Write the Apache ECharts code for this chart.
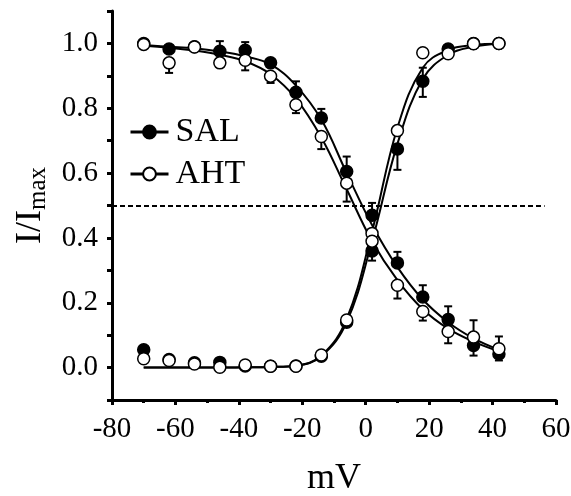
<!DOCTYPE html>
<html>
<head>
<meta charset="utf-8">
<script src="https://cdn.jsdelivr.net/npm/echarts@6/dist/echarts.min.js"></script>
<style>html,body{margin:0;padding:0;background:#fff;}#c{width:571px;height:496px;}</style>
</head>
<body>
<div id="c"></div>
<script>
// ---- data ----
var volt = [-70, -62, -54, -46, -38, -30, -22, -14, -6, 2, 10, 18, 26, 34, 42];
// inactivation (steady-state availability)
var salInact = [1.0, 0.983, 0.99, 0.976, 0.979, 0.94, 0.849, 0.77, 0.605, 0.47, 0.323, 0.218, 0.148, 0.068, 0.042];
var ahtInact = [0.997, 0.94, 0.989, 0.94, 0.948, 0.899, 0.811, 0.713, 0.569, 0.414, 0.254, 0.173, 0.111, 0.094, 0.058];
// activation
var salAct = [0.055, 0.025, 0.015, 0.016, 0.005, 0.004, 0.005, 0.035, 0.14, 0.36, 0.674, 0.883, 0.983, 1.0, 1.0];
var ahtAct = [0.027, 0.022, 0.011, 0.001, 0.008, 0.004, 0.004, 0.039, 0.147, 0.39, 0.731, 0.971, 0.968, 0.999, 1.0];
// fitted curves
var salInactFit = [0.995, 0.99, 0.985, 0.975, 0.96, 0.935, 0.87, 0.765, 0.6, 0.44, 0.31, 0.21, 0.14, 0.09, 0.055];
var ahtInactFit = [0.993, 0.987, 0.978, 0.965, 0.945, 0.905, 0.83, 0.71, 0.55, 0.39, 0.27, 0.18, 0.12, 0.08, 0.05];
var salActFit = [0, 0, 0, 0, 0.001, 0.002, 0.006, 0.035, 0.14, 0.39, 0.69, 0.89, 0.965, 0.99, 0.998];
var ahtActFit = [0, 0, 0, 0, 0.001, 0.002, 0.006, 0.037, 0.15, 0.42, 0.74, 0.925, 0.98, 0.995, 0.999];
// error bars: [mV, low, high]
var salInactErr = [[-46, 0.976, 1.007], [-38, 0.979, 1.004], [-22, 0.849, 0.883], [-14, 0.77, 0.798], [-6, 0.605, 0.651], [2, 0.47, 0.508], [10, 0.323, 0.357], [18, 0.218, 0.254], [26, 0.148, 0.189], [34, 0.037, 0.068], [42, 0.022, 0.042]];
var ahtInactErr = [[-62, 0.909, 0.94], [-38, 0.917, 0.948], [-30, 0.878, 0.899], [-22, 0.785, 0.811], [-14, 0.674, 0.713], [-6, 0.512, 0.569], [10, 0.213, 0.254], [18, 0.145, 0.173], [26, 0.075, 0.111], [34, 0.094, 0.146], [42, 0.058, 0.096]];
var salActErr = [[2, 0.33, 0.36], [10, 0.61, 0.674], [18, 0.835, 0.925]];
var halfLevel = 0.5;
var halfLineEnd = 56.4;
var seriesNames = ['SAL', 'AHT'];
var xTitle = 'mV';

// ---- build ----
function pairs(xs, ys) { return xs.map(function (x, i) { return [x, ys[i]]; }); }
var FONT = "Liberation Serif";

function errSeries(data) {
  return {
    type: 'custom', silent: true, z: 3,
    data: data,
    renderItem: function (params, api) {
      var x = api.value(0), lo = api.value(1), hi = api.value(2);
      var p1 = api.coord([x, lo]), p2 = api.coord([x, hi]);
      var w = 4;
      var st = { stroke: '#000', lineWidth: 2 };
      return { type: 'group', children: [
        { type: 'line', shape: { x1: p1[0], y1: p1[1], x2: p2[0], y2: p2[1] }, style: st },
        { type: 'line', shape: { x1: p1[0] - w, y1: p1[1], x2: p1[0] + w, y2: p1[1] }, style: st },
        { type: 'line', shape: { x1: p2[0] - w, y1: p2[1], x2: p2[0] + w, y2: p2[1] }, style: st }
      ] };
    }
  };
}
function fitSeries(ys) {
  return { type: 'line', data: pairs(volt, ys), smooth: 0.4, showSymbol: false, silent: true, z: 2,
    lineStyle: { color: '#000', width: 2 } };
}
function markerSeries(name, ys, filled, z) {
  return { type: 'line', name: name, data: pairs(volt, ys), symbol: 'circle', symbolSize: 12, showSymbol: true,
    z: z, silent: true,
    lineStyle: { width: 0, opacity: 0 },
    itemStyle: { color: filled ? '#000' : '#fff', borderColor: '#000', borderWidth: 1.5, opacity: 1 } };
}

var chart = echarts.init(document.getElementById('c'), null, { renderer: 'canvas' });
chart.setOption({
  animation: false,
  backgroundColor: '#fff',
  textStyle: { fontFamily: FONT, color: '#000' },
  grid: { left: 112, right: 15, top: 11, bottom: 96, containLabel: false, outerBoundsMode: 'none' },
  legend: {
    data: seriesNames, orient: 'vertical', left: 124, top: 110,
    itemWidth: 38, itemHeight: 16, itemGap: 8,
    textStyle: { fontFamily: FONT, fontSize: 34, color: '#000', padding: [0, 0, 0, 2] },
    lineStyle: { width: 3, color: '#000', opacity: 1 },
    selectedMode: false
  },
  xAxis: {
    type: 'value', min: -80, max: 60, interval: 20,
    name: xTitle, nameLocation: 'middle', nameGap: 61,
    nameTextStyle: { fontFamily: FONT, fontSize: 36, color: '#000' },
    axisLine: { onZero: false, lineStyle: { color: '#000', width: 3 } },
    axisTick: { length: 5, lineStyle: { color: '#000', width: 3 } },
    minorTick: { show: true, splitNumber: 2, length: 3, lineStyle: { color: '#000', width: 3 } },
    splitLine: { show: false },
    axisLabel: { fontFamily: FONT, fontSize: 29, color: '#000', margin: 15 }
  },
  yAxis: {
    type: 'value', min: -0.1, max: 1.1, interval: 0.1,
    name: 'I/I{sub|max}', nameLocation: 'middle', nameGap: 60, nameRotate: 90,
    nameTextStyle: { fontFamily: FONT, fontSize: 36, color: '#000',
      rich: { sub: { fontFamily: FONT, fontSize: 25, color: '#000', verticalAlign: 'bottom', padding: [16, 0, 0, 0] } } },
    axisLine: { onZero: false, lineStyle: { color: '#000', width: 3 } },
    axisTick: { length: 5, lineStyle: { color: '#000', width: 3 } },
    splitLine: { show: false },
    axisLabel: { fontFamily: FONT, fontSize: 29, color: '#000', margin: 14,
      formatter: function (v) {
        var k = Math.round(v * 10);
        if (k < 0 || k > 10 || k % 2 !== 0) return '';
        return (k / 10).toFixed(1);
      } }
  },
  series: [
    Object.assign(fitSeries(salInactFit), {
      markLine: { silent: true, symbol: 'none', label: { show: false },
        lineStyle: { color: '#000', width: 2, type: [5, 3] },
        data: [[{ coord: [-80, halfLevel] }, { coord: [halfLineEnd, halfLevel] }]] }
    }),
    fitSeries(ahtInactFit),
    fitSeries(salActFit),
    fitSeries(ahtActFit),
    errSeries(salInactErr),
    errSeries(ahtInactErr),
    errSeries(salActErr),
    markerSeries('SAL', salInact, true, 5),
    markerSeries('SAL', salAct, true, 5),
    markerSeries('AHT', ahtInact, false, 6),
    markerSeries('AHT', ahtAct, false, 6)
  ]
});
</script>
</body>
</html>
